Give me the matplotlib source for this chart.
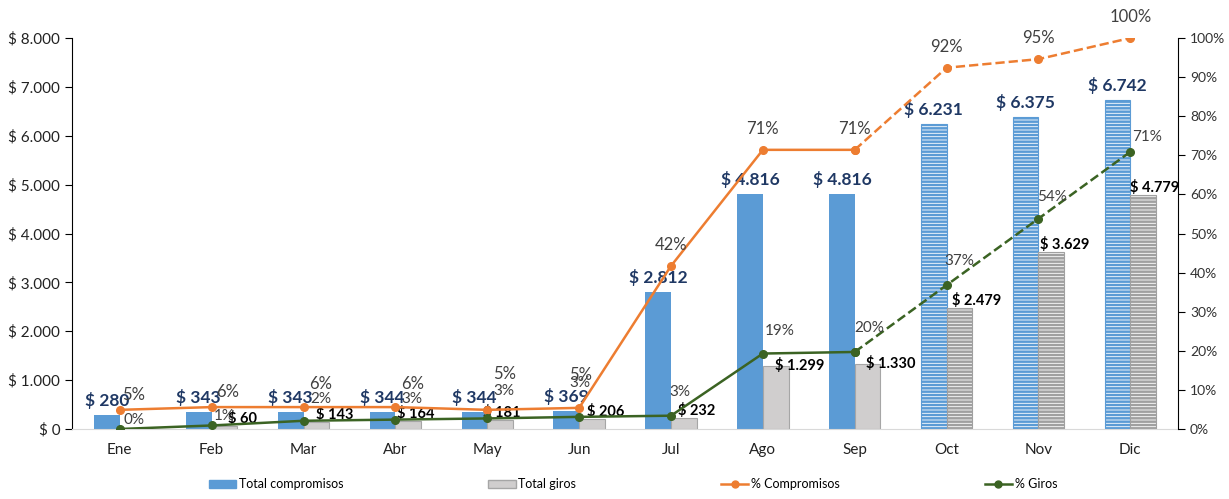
import matplotlib.pyplot as plt
import numpy as np
from matplotlib.patches import Patch
from matplotlib.lines import Line2D

plt.rcParams['font.family'] = ['Lato', 'DejaVu Sans']

months = ['Ene', 'Feb', 'Mar', 'Abr', 'May', 'Jun', 'Jul', 'Ago', 'Sep', 'Oct', 'Nov', 'Dic']
total_compromisos = [280, 343, 343, 344, 344, 369, 2812, 4816, 4816, 6231, 6375, 6742]
total_giros = [0, 60, 143, 164, 181, 206, 232, 1299, 1330, 2479, 3629, 4779]
pct_compromisos = [4.9, 5.6, 5.6, 5.6, 4.9, 5.4, 41.7, 71.4, 71.4, 92.4, 94.6, 100]
pct_giros = [0, 0.9, 2.1, 2.4, 2.7, 3.1, 3.4, 19.3, 19.7, 36.8, 53.8, 70.9]
lbl_compromisos = ['5%', '6%', '6%', '6%', '5%', '5%', '42%', '71%', '71%', '92%', '95%', '100%']
lbl_giros = ['0%', '1%', '2%', '3%', '3%', '3%', '3%', '19%', '20%', '37%', '54%', '71%']
n_actual = 9  # Ene..Sep are actual, Oct..Dic projected

# label offsets in pixels (dx, dy)
off_comp = [(14, 15), (16, 15), (17, 23), (17, 23), (17, 36), (1, 33),
            (0, 21), (0, 21), (0, 21), (0, 21), (0, 21), (0, 21)]
off_giro = [(14, 9), (13, 9), (17, 22), (16, 21), (17, 27), (1, 34),
            (9, 24), (17, 23), (14, 24), (13, 24), (14, 22), (17, 15)]
off_money = [(0, 0), (16, 0), (12, 0), (2, 0), (-4, 0), (8, 0),
             (7, 0), (12, -7), (11, -7), (5, 0), (2, 0), (0, 0)]

blue = '#5B9BD5'
grey = '#D0CECE'
orange = '#ED7D31'
green = '#3B6323'
navy = '#1F3864'

def money(v):
    return '$ ' + f'{v:,.0f}'.replace(',', '.')

fig = plt.figure(figsize=(12.29, 4.99), dpi=100)
ax = fig.add_axes([0.0586, 0.1403, 0.9, 0.7835])
ax2 = ax.twinx()

x = np.arange(len(months))
w = 0.28
plt.rcParams['hatch.linewidth'] = 1.8

for i in range(len(months)):
    if i < n_actual:
        ax.bar(x[i] - w / 2, total_compromisos[i], w, color=blue, zorder=2)
        ax.bar(x[i] + w / 2, total_giros[i], w, color=grey, edgecolor='#A6A6A6', linewidth=0.8, zorder=2)
    else:
        ax.bar(x[i] - w / 2, total_compromisos[i], w, facecolor='white', edgecolor=blue,
               hatch='-----', linewidth=0.8, zorder=2)
        ax.bar(x[i] + w / 2, total_giros[i], w, facecolor='white', edgecolor='#A0A0A0',
               hatch='-----', linewidth=0.8, zorder=2)

for i in range(len(months)):
    ax.annotate(money(total_compromisos[i]), (x[i] - w / 2, total_compromisos[i]),
                xytext=(0, 6), textcoords='offset pixels', ha='center', va='bottom',
                fontsize=12.5, fontweight='bold', color=navy, zorder=5)
    if total_giros[i] > 0:
        dx, dy = off_money[i]
        ax.annotate(money(total_giros[i]), (x[i], total_giros[i]),
                    xytext=(dx, dy), textcoords='offset pixels', ha='left', va='bottom',
                    fontsize=10.5, fontweight='bold', color='black', zorder=5)

ax.set_xlim(-0.52, len(months) - 0.48)
ax.set_ylim(0, 8000)
ax.set_yticks(range(0, 8001, 1000))
ax.set_yticklabels([money(v) for v in range(0, 8001, 1000)], fontsize=11, color='#222222')
ax.set_xticks(x)
ax.set_xticklabels(months, fontsize=11, color='#222222')
ax.tick_params(axis='x', length=0, pad=10)
ax.tick_params(axis='y', direction='out', length=5, color='black')

ax2.set_ylim(0, 100)
ax2.set_yticks(range(0, 101, 10))
ax2.set_yticklabels([f'{v}%' for v in range(0, 101, 10)], fontsize=10, color='#333333')
ax2.tick_params(axis='y', direction='out', length=5, color='black')

for a in (ax, ax2):
    a.spines['top'].set_visible(False)
ax.spines['left'].set_color('black')
ax2.spines['left'].set_visible(False)
ax2.spines['right'].set_color('black')
ax.spines['right'].set_visible(False)
ax.spines['bottom'].set_color('#D9D9D9')
ax2.spines['bottom'].set_visible(False)

k = n_actual
ax2.plot(x[:k], pct_compromisos[:k], color=orange, lw=1.8, marker='o', ms=5.5, zorder=3)
ax2.plot(x[k - 1:], pct_compromisos[k - 1:], color=orange, lw=1.8, ls='--', marker='o', ms=5.5, zorder=3)
ax2.plot(x[:k], pct_giros[:k], color=green, lw=1.8, marker='o', ms=5.5, zorder=3)
ax2.plot(x[k - 1:], pct_giros[k - 1:], color=green, lw=1.8, ls='--', marker='o', ms=5.5, zorder=3)

for i in range(len(months)):
    dx, dy = off_comp[i]
    ax2.annotate(lbl_compromisos[i], (x[i], pct_compromisos[i]), xytext=(dx, dy),
                 textcoords='offset pixels', ha='center', va='center', fontsize=12, color='#404040')
    dx, dy = off_giro[i]
    ax2.annotate(lbl_giros[i], (x[i], pct_giros[i]), xytext=(dx, dy),
                 textcoords='offset pixels', ha='center', va='center', fontsize=11, color='#404040')

handles = [Patch(facecolor=blue, edgecolor=blue),
           Patch(facecolor=grey, edgecolor='#A6A6A6'),
           Line2D([], [], color=orange, lw=1.8, marker='o', ms=5),
           Line2D([], [], color=green, lw=1.8, marker='o', ms=5)]
labels = ['Total compromisos', 'Total giros', '% Compromisos', '% Giros']
fig.legend(handles, labels, loc='lower center', bbox_to_anchor=(0.515, -0.005), ncol=4,
           frameon=False, fontsize=9, columnspacing=11.6, handlelength=2.2, handletextpad=0.2,
           handleheight=0.6)

fig.savefig('out.png', dpi=100)
